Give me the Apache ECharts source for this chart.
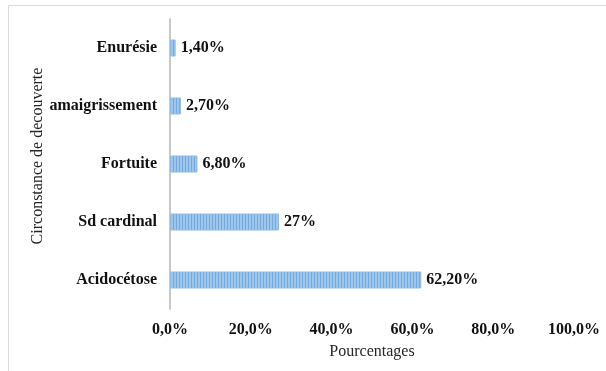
<!DOCTYPE html>
<html>
<head>
<meta charset="utf-8">
<script src="https://cdn.jsdelivr.net/npm/echarts@6/dist/echarts.min.js"></script>
<style>
  html, body { margin: 0; padding: 0; background: #fff; }
  #chart { width: 606px; height: 371px; }
</style>
</head>
<body>
<div id="chart"></div>
<script>
// données
const categories = ['Enurésie', 'amaigrissement', 'Fortuite', 'Sd cardinal', 'Acidocétose']
const values = [1.4, 2.7, 6.8, 27, 62.2]
const valueLabels = ['1,40%', '2,70%', '6,80%', '27%', '62,20%']
const xTicks = [0, 20, 40, 60, 80, 100]

const serif = '"Liberation Serif", "DejaVu Serif", serif'

// motif rayé vertical des barres
function stripes() {
  const c = document.createElement('canvas')
  c.width = 3
  c.height = 4
  const ctx = c.getContext('2d')
  ctx.fillStyle = '#9ec5ea'
  ctx.fillRect(0, 0, 3, 4)
  ctx.fillStyle = '#74a9dd'
  ctx.fillRect(2, 0, 1, 4)
  return c
}

const chart = echarts.init(document.getElementById('chart'))
chart.setOption({
  animation: false,
  textStyle: { fontFamily: serif },
  graphic: [{
    type: 'rect',
    shape: { x: 8.5, y: 5.5, width: 700, height: 500 },
    style: { fill: 'none', stroke: '#d9d9d9', lineWidth: 1 },
    silent: true
  }],
  grid: { left: 170, right: 32, top: 19, bottom: 62 },
  xAxis: {
    type: 'value',
    min: xTicks[0],
    max: xTicks[xTicks.length - 1],
    interval: 20,
    name: 'Pourcentages',
    nameLocation: 'middle',
    nameGap: 35,
    nameTextStyle: { fontFamily: serif, fontSize: 16, color: '#262626' },
    axisLine: { show: false },
    axisTick: { show: false },
    splitLine: { show: false },
    axisLabel: {
      margin: 13,
      fontFamily: serif,
      fontSize: 16,
      fontWeight: 'bold',
      color: '#111',
      formatter: v => v.toFixed(1).replace('.', ',') + '%'
    }
  },
  yAxis: {
    type: 'category',
    inverse: true,
    data: categories,
    name: 'Circonstance de decouverte',
    nameLocation: 'middle',
    nameRotate: 90,
    nameGap: 124,
    nameMoveOverlap: false,
    nameTextStyle: { fontFamily: serif, fontSize: 16, color: '#262626', padding: [0, 0, 0, 16] },
    axisLine: { show: true, lineStyle: { color: '#c8c8c8', width: 2 } },
    axisTick: { show: false },
    axisLabel: {
      margin: 13,
      fontFamily: serif,
      fontSize: 16,
      fontWeight: 'bold',
      color: '#111'
    }
  },
  series: [{
    type: 'bar',
    data: values,
    barWidth: 17,
    itemStyle: {
      color: { image: stripes(), repeat: 'repeat' },
      borderColor: '#8dbbe6',
      borderWidth: 1
    },
    label: {
      show: true,
      position: 'right',
      distance: 5,
      fontFamily: serif,
      fontSize: 16,
      fontWeight: 'bold',
      color: '#111',
      formatter: p => valueLabels[p.dataIndex]
    }
  }]
})
</script>
</body>
</html>
